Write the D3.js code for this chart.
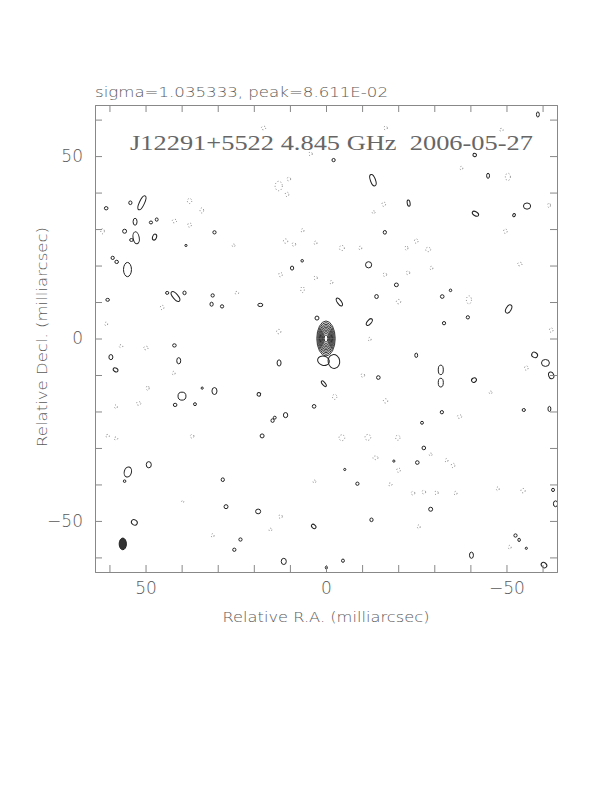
<!DOCTYPE html>
<html>
<head>
<meta charset="utf-8">
<script src="https://cdn.jsdelivr.net/npm/d3@7"></script>
<style>
  body { margin: 0; background: #fff; }
  text { font-family: "DejaVu Sans", sans-serif; fill: #5a5a5a; font-weight: 200; }
</style>
</head>
<body>
<script>

var sigmaText = "sigma=1.035333, peak=8.611E-02";
var titleText = "J12291+5522 4.845 GHz  2006-05-27";
var xLabel = "Relative R.A. (milliarcsec)";
var yLabel = "Relative Decl. (milliarcsec)";

var tickValues = [60, 50, 40, 30, 20, 10, 0, -10, -20, -30, -40, -50, -60];
var labelTicks = [50, 0, -50];

// core component, nested contour levels (semi axes in mas)
var coreRx = [2.55, 2.3, 2.05, 1.82, 1.6, 1.38, 1.17, 0.96, 0.75, 0.5];
var coreRy = [4.8, 4.35, 3.9, 3.5, 3.1, 2.7, 2.3, 1.9, 1.5, 1.0];

// positive contours: [ra, dec, semi-a, semi-b, angle]
var posBlobs = [
  [51.0, 37.2, 0.7, 2.1, 25], [54.2, 37.2, 0.45, 0.5, 0], [60.9, 35.7, 0.5, 0.45, 0],
  [52.9, 32.0, 0.55, 0.95, 0], [48.5, 31.8, 0.45, 0.4, 0], [46.9, 32.6, 0.4, 0.45, 0],
  [55.8, 29.4, 0.55, 0.55, 0], [52.6, 27.6, 0.85, 1.65, -10], [53.9, 27.0, 0.5, 0.4, 0],
  [47.5, 27.8, 0.55, 0.85, 20], [30.9, 29.1, 0.45, 0.45, 0], [38.8, 25.5, 0.3, 0.3, 0],
  [59.1, 22.1, 0.45, 0.45, 0], [58.0, 21.0, 0.5, 0.45, 0], [55.0, 18.9, 1.1, 1.95, 0],
  [41.7, 11.5, 0.7, 1.65, -40], [44.0, 12.5, 0.45, 0.4, 0], [39.2, 12.5, 0.45, 0.5, 0],
  [60.5, 10.6, 0.5, 0.4, 0], [31.4, 11.8, 0.45, 0.45, 0], [31.7, 9.4, 0.45, 0.55, 0],
  [28.8, 8.8, 0.45, 0.45, 0],
  [-2.1, 48.9, 0.45, 0.45, 0], [-13.0, 43.4, 0.7, 1.65, -20], [-16.3, 29.1, 0.45, 0.5, 0],
  [9.4, 19.3, 0.45, 0.55, 0], [6.6, 21.3, 0.35, 0.35, 0], [-11.8, 20.2, 0.85, 0.85, 0],
  [-19.5, 14.7, 0.55, 0.5, 0], [18.2, 9.2, 0.7, 0.45, 0], [-3.7, 10.0, 0.55, 1.25, -35],
  [-14.0, 11.5, 0.5, 0.55, 0], [2.5, 5.6, 0.55, 0.55, 0], [-12.0, 4.5, 0.55, 1.1, 40],
  [0.7, -6.1, 1.65, 1.25, 15], [-2.2, -6.3, 1.6, 1.9, -10], [0.6, -12.4, 0.4, 0.95, -40],
  [13.0, -6.7, 0.55, 0.85, 0], [-14.5, -10.7, 0.5, 0.5, 0], [3.3, -18.6, 0.5, 0.5, 0],
  [-58.7, 61.4, 0.4, 0.7, 0], [-41.2, 50.3, 0.5, 0.45, 20], [-44.9, 44.6, 0.4, 0.7, 0],
  [-22.9, 37.1, 0.4, 0.85, -10], [-41.4, 34.2, 0.55, 0.95, -60], [-55.7, 36.3, 1.0, 0.85, 0],
  [-52.1, 33.8, 0.35, 0.45, 30], [-32.2, 11.5, 0.5, 0.5, 0], [-34.5, 13.2, 0.35, 0.35, 0],
  [-50.6, 8.1, 0.7, 1.25, 30], [-39.3, 5.8, 0.45, 0.45, 0], [-32.7, 4.2, 0.45, 0.45, 0],
  [42.0, -1.9, 0.5, 0.45, 0], [59.6, -5.1, 0.55, 0.7, 0], [40.8, -6.1, 0.55, 0.85, 0],
  [58.3, -8.6, 0.7, 0.5, 30], [39.9, -15.8, 1.1, 1.1, 0], [41.8, -18.2, 0.5, 0.45, 0],
  [36.3, -18.0, 0.4, 0.4, 0], [34.3, -13.6, 0.3, 0.3, 0], [30.9, -14.4, 0.7, 0.95, 0],
  [49.1, -34.6, 0.7, 0.85, 0], [54.9, -36.6, 1.0, 1.4, 15], [55.8, -39.1, 0.35, 0.35, 0],
  [28.6, -38.7, 0.45, 0.5, 0], [27.7, -46.1, 0.55, 0.55, 0], [53.1, -50.4, 0.85, 0.7, 30],
  [23.7, -55.1, 0.45, 0.45, 0], [25.4, -57.9, 0.45, 0.45, 0],
  [18.6, -15.3, 0.5, 0.5, 30], [11.2, -21.0, 0.6, 0.7, 0], [14.8, -22.5, 0.45, 0.5, 0],
  [14.2, -21.7, 0.4, 0.4, 0], [17.7, -26.7, 0.55, 0.55, 0], [-18.8, -33.6, 0.3, 0.3, 0],
  [-5.2, -35.9, 0.3, 0.3, 0], [-8.7, -39.8, 0.45, 0.45, 0], [18.8, -47.4, 0.7, 0.65, 0],
  [3.4, -51.5, 0.5, 0.7, -50], [-12.6, -49.7, 0.45, 0.5, 0], [11.7, -61.1, 0.7, 0.85, 0],
  [-4.7, -60.9, 0.4, 0.45, 0], [-0.1, -62.8, 0.3, 0.4, 0],
  [-25.0, -4.6, 0.4, 0.6, 0], [-31.8, -8.6, 0.7, 1.3, 0], [-31.8, -12.1, 0.7, 1.2, 0],
  [-41.0, -11.4, 0.7, 0.6, -30], [-57.8, -4.5, 0.85, 0.7, 30], [-60.8, -6.7, 1.1, 0.95, 0],
  [-62.4, -10.1, 0.7, 0.95, -20], [-32.1, -20.2, 0.45, 0.45, 0], [-54.8, -19.6, 0.45, 0.4, 0],
  [-61.9, -19.3, 0.4, 0.7, 0], [-26.6, -23.1, 0.4, 0.4, 0], [-27.1, -30.0, 0.5, 0.5, 0],
  [-25.3, -34.0, 0.5, 0.5, 0], [-62.9, -41.5, 0.4, 0.45, 0], [-63.6, -45.3, 0.6, 0.8, 0],
  [-29.0, -46.8, 0.55, 0.55, 0], [-52.5, -54.0, 0.45, 0.45, 0], [-53.5, -55.2, 0.35, 0.45, 0],
  [-55.5, -57.5, 0.3, 0.3, 0], [-40.3, -59.4, 0.55, 0.85, 0], [-60.4, -62.1, 0.85, 0.65, 40]
];

// negative contours (dashed): [ra, dec, semi-a, semi-b]
var negBlobs = [
  [42.0, 32.2, 0.6, 0.5], [37.8, 37.7, 0.6, 0.7], [34.4, 35.1, 0.5, 0.7], [37.8, 31.1, 0.5, 0.6],
  [61.9, 29.4, 0.5, 0.7], [25.6, 25.5, 0.4, 0.4], [45.4, 8.5, 0.5, 0.6], [24.7, 12.5, 0.5, 0.4],
  [60.9, 4.0, 0.4, 0.5], [17.3, 57.7, 0.6, 0.5], [-16.5, 57.7, 0.5, 0.5], [4.3, 50.6, 0.5, 0.5],
  [13.1, 41.8, 1.0, 1.3], [10.3, 43.7, 0.5, 0.5], [10.8, 39.5, 0.5, 0.6], [-16.0, 36.8, 0.5, 0.6],
  [-13.2, 34.6, 0.4, 0.4], [6.5, 29.6, 0.4, 0.5], [11.2, 26.7, 0.6, 0.6], [8.9, 25.8, 0.5, 0.5],
  [2.9, 26.2, 0.4, 0.5], [-4.4, 24.8, 0.7, 0.7], [-9.5, 24.8, 0.4, 0.5], [12.6, 17.5, 0.5, 0.6],
  [2.9, 16.6, 0.5, 0.5], [-1.5, 15.4, 0.4, 0.5], [-16.3, 17.5, 0.5, 0.5], [6.5, 13.4, 0.5, 0.8],
  [-20.1, 10.1, 0.6, 0.6], [13.1, 1.9, 0.6, 0.6], [-12.1, -0.2, 0.4, 0.5], [-10.2, -10.1, 0.5, 0.5],
  [-2.4, -16.0, 0.6, 0.7], [-48.6, 57.2, 0.5, 0.4], [-37.5, 46.7, 0.4, 0.5], [-50.4, 44.3, 0.7, 1.0],
  [-61.8, 36.5, 0.4, 0.6], [-49.7, 29.4, 0.5, 0.6], [-25.0, 26.7, 0.5, 0.6], [-28.3, 24.4, 0.7, 0.6],
  [-22.3, 24.8, 0.4, 0.6], [-53.7, 20.4, 0.6, 0.5], [-29.2, 19.3, 0.4, 0.5], [-22.7, 18.0, 0.5, 0.5],
  [-39.6, 10.6, 0.7, 1.1], [-62.4, 2.3, 0.5, 0.6], [56.8, -2.1, 0.5, 0.4], [49.9, -2.6, 0.6, 0.5],
  [42.2, -9.5, 0.4, 0.5], [49.4, -13.6, 0.4, 0.6], [58.2, -18.7, 0.4, 0.5], [51.9, -17.8, 0.6, 0.5],
  [58.2, -27.4, 0.5, 0.4], [60.5, -26.7, 0.5, 0.4], [37.1, -26.8, 0.5, 0.5], [39.7, -44.7, 0.3, 0.3],
  [31.4, -54.0, 0.4, 0.5], [-16.5, -17.1, 0.6, 0.6], [-4.4, -27.2, 0.8, 0.8], [-11.6, -27.1, 0.8, 0.8],
  [-19.9, -27.2, 0.6, 0.7], [-13.7, -32.7, 0.7, 0.5], [-20.1, -36.1, 0.5, 0.6], [3.2, -39.2, 0.4, 0.4],
  [-17.8, -40.0, 0.5, 0.4], [12.6, -48.8, 0.5, 0.5], [15.4, -52.4, 0.4, 0.4], [-55.5, -8.1, 0.5, 0.6],
  [-45.6, -14.8, 0.4, 0.4], [-37.0, -21.4, 0.6, 0.5], [-33.4, -33.4, 0.4, 0.5], [-35.2, -34.8, 0.5, 0.6],
  [-29.0, -31.8, 0.4, 0.4], [-24.1, -42.4, 0.5, 0.5], [-27.1, -42.1, 0.5, 0.5], [-30.6, -42.3, 0.5, 0.5],
  [-35.9, -42.4, 0.4, 0.5], [-47.6, -41.2, 0.4, 0.5], [-54.6, -41.7, 0.6, 0.6], [-25.7, -51.6, 0.4, 0.5],
  [-50.9, -57.2, 0.4, 0.5]
];

// restoring beam: [ra, dec, semi-a, semi-b]
var beam = [56.3, -56.3, 1.0, 1.6];

const W = 612, H = 792;
const mLeft = 95, mRight = 557, mTop = 105, mBottom = 572;

const svg = d3.select("body").append("svg")
  .attr("width", W)
  .attr("height", H);

const x = d3.scaleLinear().domain([64, -64]).range([mLeft, mRight]);
const y = d3.scaleLinear().domain([64, -64]).range([mTop, mBottom]);
const kx = Math.abs(x(1) - x(0));
const ky = Math.abs(y(1) - y(0));

svg.append("defs").append("clipPath").attr("id", "clip")
  .append("rect")
  .attr("x", mLeft).attr("y", mTop)
  .attr("width", mRight - mLeft).attr("height", mBottom - mTop);

const map = svg.append("g").attr("clip-path", "url(#clip)");

// core nested contours
map.selectAll("ellipse.core")
  .data(d3.range(coreRx.length))
  .enter().append("ellipse")
  .attr("class", "core")
  .attr("cx", x(0))
  .attr("cy", y(0))
  .attr("rx", i => coreRx[i] * kx)
  .attr("ry", i => coreRy[i] * ky)
  .attr("fill", "none")
  .attr("stroke", "#222")
  .attr("stroke-width", 0.9);

map.selectAll("ellipse.pos")
  .data(posBlobs)
  .enter().append("ellipse")
  .attr("class", "pos")
  .attr("cx", d => x(d[0]))
  .attr("cy", d => y(d[1]))
  .attr("rx", d => d[2] * kx)
  .attr("ry", d => d[3] * ky)
  .attr("transform", d => "rotate(" + d[4] + "," + x(d[0]) + "," + y(d[1]) + ")")
  .attr("fill", "none")
  .attr("stroke", "#222")
  .attr("stroke-width", 1);

map.selectAll("ellipse.neg")
  .data(negBlobs)
  .enter().append("ellipse")
  .attr("class", "neg")
  .attr("cx", d => x(d[0]))
  .attr("cy", d => y(d[1]))
  .attr("rx", d => d[2] * kx)
  .attr("ry", d => d[3] * ky)
  .attr("fill", "none")
  .attr("stroke", "#666")
  .attr("stroke-width", 0.8)
  .attr("stroke-dasharray", "1,2");

map.append("ellipse")
  .attr("cx", x(beam[0]))
  .attr("cy", y(beam[1]))
  .attr("rx", beam[2] * kx)
  .attr("ry", beam[3] * ky)
  .attr("fill", "#333")
  .attr("stroke", "#222");

// axes, ticks inward on all four sides
const fmt = d => labelTicks.indexOf(d) >= 0 ? d3.format("d")(d) : "";

const axB = svg.append("g")
  .attr("transform", "translate(0," + mBottom + ")")
  .call(d3.axisBottom(x).tickValues(tickValues).tickSize(-7).tickPadding(10).tickFormat(fmt));
const axT = svg.append("g")
  .attr("transform", "translate(0," + mTop + ")")
  .call(d3.axisTop(x).tickValues(tickValues).tickSize(-7).tickFormat(""));
const axL = svg.append("g")
  .attr("transform", "translate(" + mLeft + ",0)")
  .call(d3.axisLeft(y).tickValues(tickValues).tickSize(-7).tickPadding(12).tickFormat(fmt));
const axR = svg.append("g")
  .attr("transform", "translate(" + mRight + ",0)")
  .call(d3.axisRight(y).tickValues(tickValues).tickSize(-7).tickFormat(""));

[axB, axT, axL, axR].forEach(function (g) {
  g.selectAll("path.domain").attr("stroke", "#888");
  g.selectAll(".tick line").attr("stroke", "#888");
  g.selectAll(".tick text")
    .attr("font-family", "DejaVu Sans, sans-serif")
    .attr("font-weight", 200)
    .attr("font-size", 17)
    .attr("fill", "#5a5a5a");
});

svg.append("text")
  .attr("x", 95)
  .attr("y", 97)
  .attr("font-size", 14)
  .attr("textLength", 293)
  .attr("lengthAdjust", "spacingAndGlyphs")
  .text(sigmaText);

svg.append("text")
  .attr("x", 130)
  .attr("y", 150)
  .attr("font-size", 22)
  .attr("textLength", 403)
  .attr("lengthAdjust", "spacingAndGlyphs")
  .style("font-family", "Liberation Serif, serif")
  .style("font-weight", 400)
  .style("white-space", "pre")
  .style("fill", "#666")
  .text(titleText);

svg.append("text")
  .attr("x", (mLeft + mRight) / 2)
  .attr("y", 622)
  .attr("text-anchor", "middle")
  .attr("font-size", 14)
  .attr("textLength", 207)
  .attr("lengthAdjust", "spacingAndGlyphs")
  .text(xLabel);

svg.append("text")
  .attr("transform", "translate(47," + 337 + ") rotate(-90)")
  .attr("text-anchor", "middle")
  .attr("font-size", 14)
  .attr("textLength", 220)
  .attr("lengthAdjust", "spacingAndGlyphs")
  .text(yLabel);

</script>
</body>
</html>
